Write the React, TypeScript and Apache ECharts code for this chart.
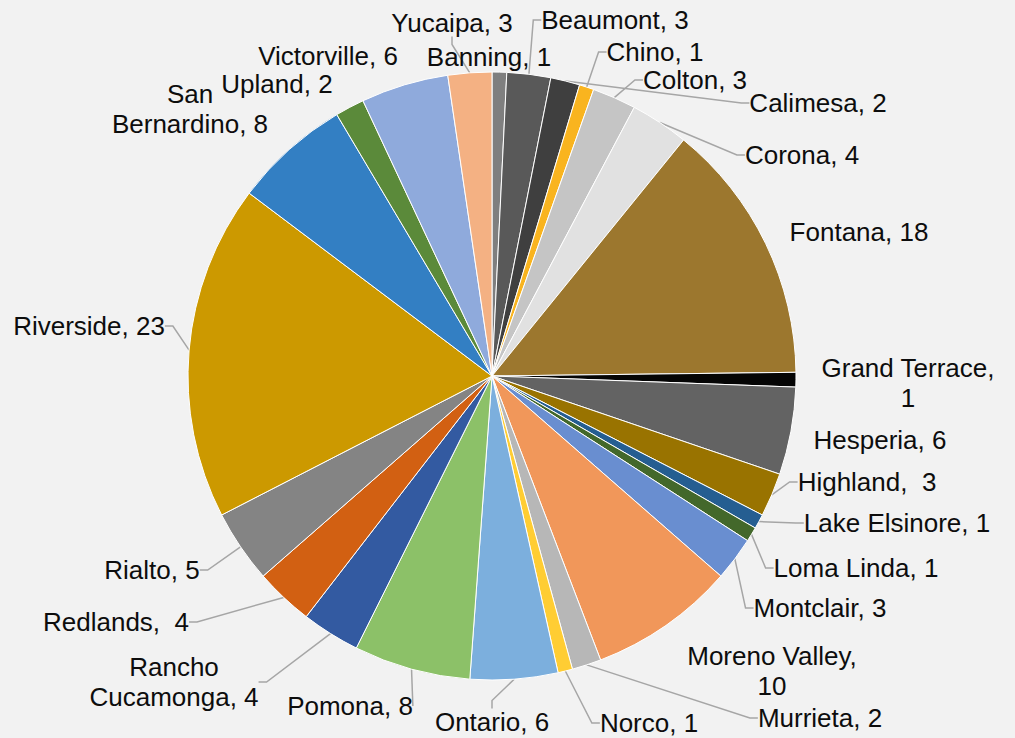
import React, { useEffect, useRef } from "react";
import * as echarts from "echarts";

const cities = [
  "Banning", "Beaumont", "Calimesa", "Chino", "Colton", "Corona", "Fontana",
  "Grand Terrace", "Hesperia", "Highland", "Lake Elsinore", "Loma Linda",
  "Montclair", "Moreno Valley", "Murrieta", "Norco", "Ontario", "Pomona",
  "Rancho Cucamonga", "Redlands", "Rialto", "Riverside", "San Bernardino",
  "Upland", "Victorville", "Yucaipa",
];
const counts = [1, 3, 2, 1, 3, 4, 18, 1, 6, 3, 1, 1, 3, 10, 2, 1, 6, 8, 4, 4, 5, 23, 8, 2, 6, 3];
// label lines as shown in the chart (wrapped where the original wraps)
const labelLines = [
  ["Banning, 1"], ["Beaumont, 3"], ["Calimesa, 2"], ["Chino, 1"], ["Colton, 3"], ["Corona, 4"],
  ["Fontana, 18"], ["Grand Terrace,", "1"], ["Hesperia, 6"], ["Highland,  3"], ["Lake Elsinore, 1"],
  ["Loma Linda, 1"], ["Montclair, 3"], ["Moreno Valley,", "10"], ["Murrieta, 2"], ["Norco, 1"],
  ["Ontario, 6"], ["Pomona, 8"], ["Rancho", "Cucamonga, 4"], ["Redlands,  4"], ["Rialto, 5"],
  ["Riverside, 23"], ["San", "Bernardino, 8"], ["Upland, 2"], ["Victorville, 6"], ["Yucaipa, 3"],
];
const colors = [
  "#7f7f7f", "#595959", "#3f3f3f", "#f9b41f", "#c5c5c5", "#e1e1e1", "#9c772e",
  "#050505", "#636363", "#997300", "#255e91", "#43682b", "#698ed0", "#f1975a",
  "#b7b7b7", "#ffcd33", "#7cafdd", "#8cc168", "#335aa1", "#d26012", "#848484",
  "#cc9900", "#337fc3", "#5b8a3a", "#8faadc", "#f4b183",
];
// manual label placement (centre of each label block, in px), as in the original layout
const labelCenters = [
  [489, 57], [615, 20], [818, 103], [655, 52], [695, 80], [802, 155], [859, 232],
  [908, 383], [880, 440], [867, 482], [897, 523], [856, 568], [820, 608], [772, 671],
  [820, 718], [649, 723], [492, 722], [350, 706], [174, 682], [116, 622], [152, 570],
  [89, 326], [190, 109], [277, 84], [328, 56], [452, 23],
];
const showLeader = [
  false, true, true, true, true, true, false, false, false, true, true, true, true,
  false, true, true, true, true, true, true, true, true, false, false, false, true,
];

export default function App() {
  const ref = useRef<HTMLDivElement>(null);
  useEffect(() => {
    if (!ref.current) return;
    const chart = echarts.init(ref.current, null, { renderer: "svg" });
    const font = "Liberation Sans, Arial, sans-serif";
    chart.setOption({
      animation: false,
      backgroundColor: "#f2f2f2",
      series: [
        {
          type: "pie",
          center: [492, 376],
          radius: [0, 304],
          startAngle: 90,
          clockwise: true,
          data: cities.map((c, i) => ({
            name: c,
            value: counts[i],
            itemStyle: { color: colors[i] },
            label: {
              formatter:
                labelLines[i].length > 1
                  ? labelLines[i].map((l) => `{c|${l}}`).join("\n")
                  : `{s|${labelLines[i][0]}}`,
            },
            labelLine: { show: showLeader[i] },
          })),
          itemStyle: { borderColor: "#ffffff", borderWidth: 1 },
          label: {
            show: true,
            position: "outside",
            color: "#0d0d0d",
            fontFamily: font,
            fontSize: 26,
            lineHeight: 27,
            rich: {
              c: {
                align: "center",
                fontFamily: font,
                fontSize: 26,
                lineHeight: 30,
                color: "#0d0d0d",
              },
              s: {
                align: "center",
                fontFamily: font,
                fontSize: 26,
                lineHeight: 27,
                color: "#0d0d0d",
              },
            },
          },
          labelLine: {
            show: true,
            length: 12,
            length2: 8,
            lineStyle: { color: "#a6a6a6", width: 1.5 },
          },
          labelLayout: (params: any) => {
            const p = labelCenters[params.dataIndex];
            return { x: p[0], y: p[1], align: "center", verticalAlign: "middle" };
          },
        },
      ],
    });
    return () => chart.dispose();
  }, []);
  return (
    <div
      ref={ref}
      style={{ position: "fixed", left: 0, top: 0, width: 1015, height: 738 }}
    />
  );
}
